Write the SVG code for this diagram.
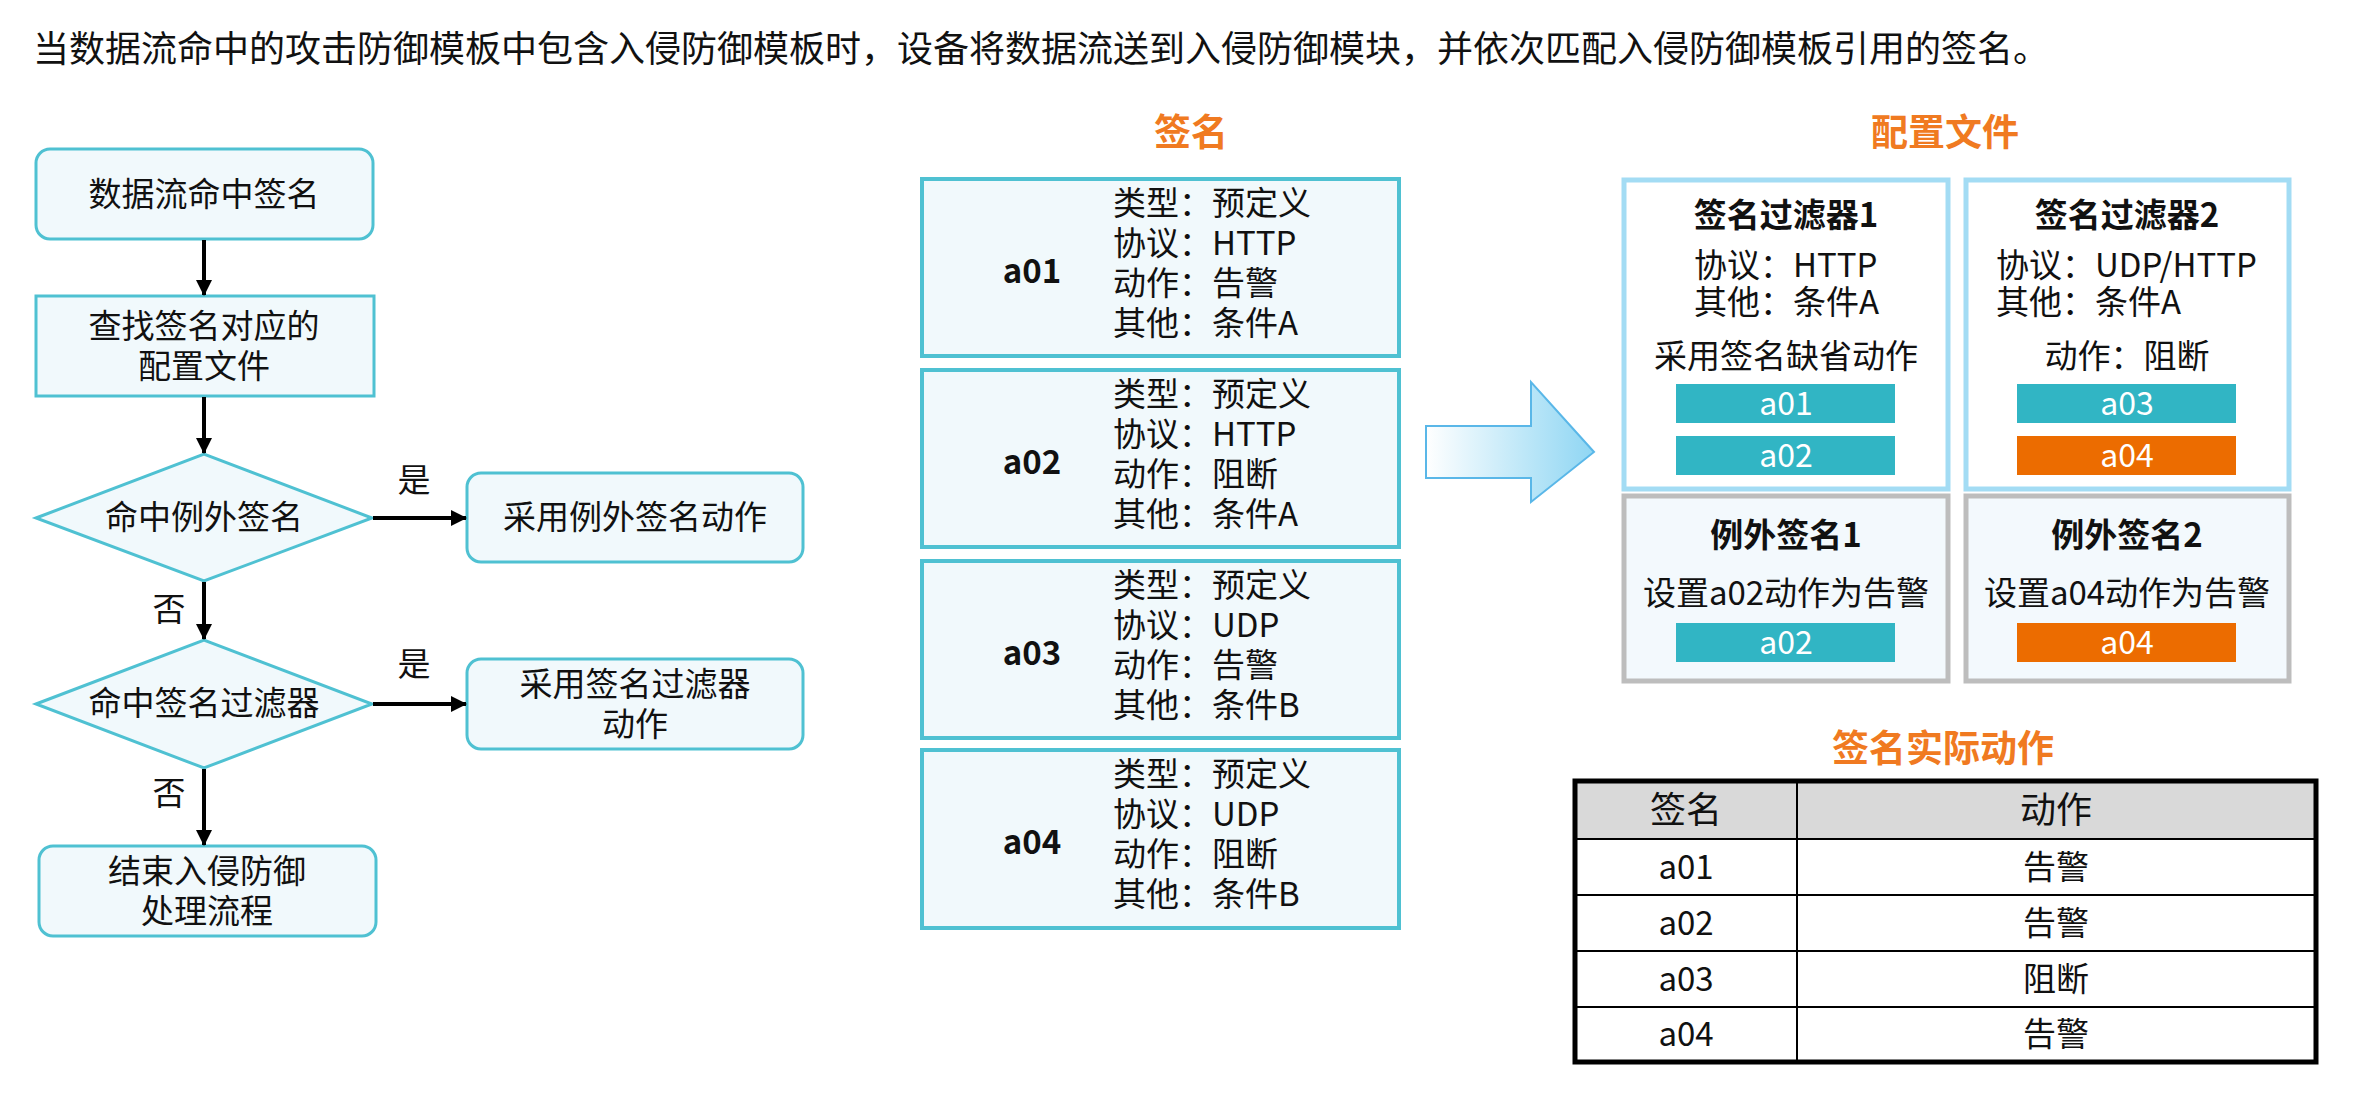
<svg xmlns="http://www.w3.org/2000/svg" width="2358" height="1110" viewBox="0 0 2358 1110">
<style>
text{font-family:"Noto Sans CJK SC","Liberation Sans",sans-serif;fill:#111}
.t{font-size:33px}
.c{text-anchor:middle}
.b{font-weight:bold}
.or{fill:#f07a21;font-size:37px;font-weight:bold}
.fb{fill:#f1f9fc;stroke:#4fc1d2;stroke-width:3}
.sig{fill:#f1f9fc;stroke:#4fc1d2;stroke-width:4}
.flt{fill:#fff;stroke:#a3dcf4;stroke-width:5}
.exc{fill:#f3f9fd;stroke:#bdbdbd;stroke-width:5}
.tl{fill:#31b5c4}.og{fill:#ec6c00}
.bt{fill:#fff;font-size:32px;text-anchor:middle}
.ln{stroke:#000;stroke-width:4;fill:none}
</style>
<defs>
<marker id="ah" markerWidth="16" markerHeight="16" refX="15" refY="8" orient="auto" markerUnits="userSpaceOnUse" viewBox="0 0 16 16"><path d="M0,0L16,8L0,16z" fill="#000"/></marker>
<linearGradient id="ag" x1="0" x2="1" y1="0" y2="0"><stop offset="0" stop-color="#fff"/><stop offset="1" stop-color="#8fd6f3"/></linearGradient>
</defs>
<text x="33" y="62" style="font-size:36px">当数据流命中的攻击防御模板中包含入侵防御模板时，设备将数据流送到入侵防御模块，并依次匹配入侵防御模板引用的签名。</text>

<g id="n1"><rect x="36" y="149" width="337" height="90" rx="14" class="fb"/><text x="204" y="206" class="t c">数据流命中签名</text></g>
<g id="n2"><rect x="36" y="296" width="338" height="100" class="fb" stroke-width="4"/><text x="204" y="338" class="t c">查找签名对应的</text><text x="204" y="378" class="t c">配置文件</text></g>
<g id="d1"><polygon points="36,518 204,454 372,518 204,581" class="fb"/><text x="204" y="529" class="t c">命中例外签名</text></g>
<g id="r1"><rect x="467" y="473" width="336" height="89" rx="14" class="fb"/><text x="635" y="529" class="t c">采用例外签名动作</text></g>
<g id="d2"><polygon points="36,704 204,640 372,704 204,768" class="fb"/><text x="204" y="715" class="t c">命中签名过滤器</text></g>
<g id="r2"><rect x="467" y="659" width="336" height="90" rx="14" class="fb"/><text x="635" y="696" class="t c">采用签名过滤器</text><text x="635" y="736" class="t c">动作</text></g>
<g id="n3"><rect x="39" y="846" width="337" height="90" rx="14" class="fb"/><text x="207" y="883" class="t c">结束入侵防御</text><text x="207" y="923" class="t c">处理流程</text></g>

<g id="connectors">
<line x1="204" y1="240" x2="204" y2="295" class="ln" marker-end="url(#ah)"/>
<line x1="204" y1="397" x2="204" y2="453" class="ln" marker-end="url(#ah)"/>
<line x1="373" y1="518" x2="466" y2="518" class="ln" marker-end="url(#ah)"/>
<line x1="204" y1="582" x2="204" y2="639" class="ln" marker-end="url(#ah)"/>
<line x1="373" y1="704" x2="466" y2="704" class="ln" marker-end="url(#ah)"/>
<line x1="204" y1="769" x2="204" y2="845" class="ln" marker-end="url(#ah)"/>
<text x="414" y="492" class="t c">是</text>
<text x="169" y="621" class="t c">否</text>
<text x="414" y="676" class="t c">是</text>
<text x="169" y="805" class="t c">否</text>
</g>

<text x="1191" y="146" class="or c">签名</text>
<g id="s1"><rect x="922" y="179" width="477" height="177" class="sig"/><text x="1032" y="283" class="t c b">a01</text>
<text x="1113" y="215" class="t">类型：预定义</text><text x="1113" y="255" class="t">协议：HTTP</text><text x="1113" y="295" class="t">动作：告警</text><text x="1113" y="335" class="t">其他：条件A</text></g>
<g id="s2"><rect x="922" y="370" width="477" height="177" class="sig"/><text x="1032" y="474" class="t c b">a02</text>
<text x="1113" y="406" class="t">类型：预定义</text><text x="1113" y="446" class="t">协议：HTTP</text><text x="1113" y="486" class="t">动作：阻断</text><text x="1113" y="526" class="t">其他：条件A</text></g>
<g id="s3"><rect x="922" y="561" width="477" height="177" class="sig"/><text x="1032" y="665" class="t c b">a03</text>
<text x="1113" y="597" class="t">类型：预定义</text><text x="1113" y="637" class="t">协议：UDP</text><text x="1113" y="677" class="t">动作：告警</text><text x="1113" y="717" class="t">其他：条件B</text></g>
<g id="s4"><rect x="922" y="750" width="477" height="178" class="sig"/><text x="1032" y="854" class="t c b">a04</text>
<text x="1113" y="786" class="t">类型：预定义</text><text x="1113" y="826" class="t">协议：UDP</text><text x="1113" y="866" class="t">动作：阻断</text><text x="1113" y="906" class="t">其他：条件B</text></g>

<g id="arrow"><path d="M1426,426H1531V382L1594,452L1531,502V478H1426z" fill="url(#ag)" stroke="#5ab7e8" stroke-width="2"/></g>

<text x="1945" y="146" class="or c">配置文件</text>
<g id="f1"><rect x="1624" y="180" width="324" height="309" class="flt"/>
<text x="1786" y="227" class="t c b">签名过滤器1</text><text x="1694" y="277" class="t">协议：HTTP</text><text x="1694" y="314" class="t">其他：条件A</text><text x="1786" y="368" class="t c">采用签名缺省动作</text>
<rect x="1676" y="384" width="219" height="39" class="tl"/><text x="1786" y="415" class="bt">a01</text>
<rect x="1676" y="436" width="219" height="39" class="tl"/><text x="1786" y="467" class="bt">a02</text></g>
<g id="f2"><rect x="1966" y="180" width="323" height="309" class="flt"/>
<text x="2127" y="227" class="t c b">签名过滤器2</text><text x="1996" y="277" class="t">协议：UDP/HTTP</text><text x="1996" y="314" class="t">其他：条件A</text><text x="2127" y="368" class="t c">动作：阻断</text>
<rect x="2017" y="384" width="219" height="39" class="tl"/><text x="2127" y="415" class="bt">a03</text>
<rect x="2017" y="436" width="219" height="39" class="og"/><text x="2127" y="467" class="bt">a04</text></g>
<g id="e1"><rect x="1624" y="496" width="324" height="185" class="exc"/>
<text x="1786" y="547" class="t c b">例外签名1</text><text x="1786" y="605" class="t c">设置a02动作为告警</text>
<rect x="1676" y="623" width="219" height="39" class="tl"/><text x="1786" y="654" class="bt">a02</text></g>
<g id="e2"><rect x="1966" y="496" width="323" height="185" class="exc"/>
<text x="2127" y="547" class="t c b">例外签名2</text><text x="2127" y="605" class="t c">设置a04动作为告警</text>
<rect x="2017" y="623" width="219" height="39" class="og"/><text x="2127" y="654" class="bt">a04</text></g>

<text x="1943" y="762" class="or c">签名实际动作</text>
<g id="table">
<rect x="1575" y="781" width="741" height="58" fill="#d9d9d9"/>
<g stroke="#000" stroke-width="2">
<line x1="1575" y1="839" x2="2316" y2="839"/><line x1="1575" y1="895" x2="2316" y2="895"/><line x1="1575" y1="951" x2="2316" y2="951"/><line x1="1575" y1="1007" x2="2316" y2="1007"/>
<line x1="1797" y1="781" x2="1797" y2="1062"/></g>
<rect x="1575" y="781" width="741" height="281" fill="none" stroke="#000" stroke-width="5"/>
<text x="1686" y="823" class="t c" style="font-size:36px">签名</text><text x="2056" y="823" class="t c" style="font-size:36px">动作</text>
<text x="1686" y="879" class="t c">a01</text><text x="2056" y="879" class="t c">告警</text>
<text x="1686" y="935" class="t c">a02</text><text x="2056" y="935" class="t c">告警</text>
<text x="1686" y="991" class="t c">a03</text><text x="2056" y="991" class="t c">阻断</text>
<text x="1686" y="1046" class="t c">a04</text><text x="2056" y="1046" class="t c">告警</text>
</g>
</svg>
